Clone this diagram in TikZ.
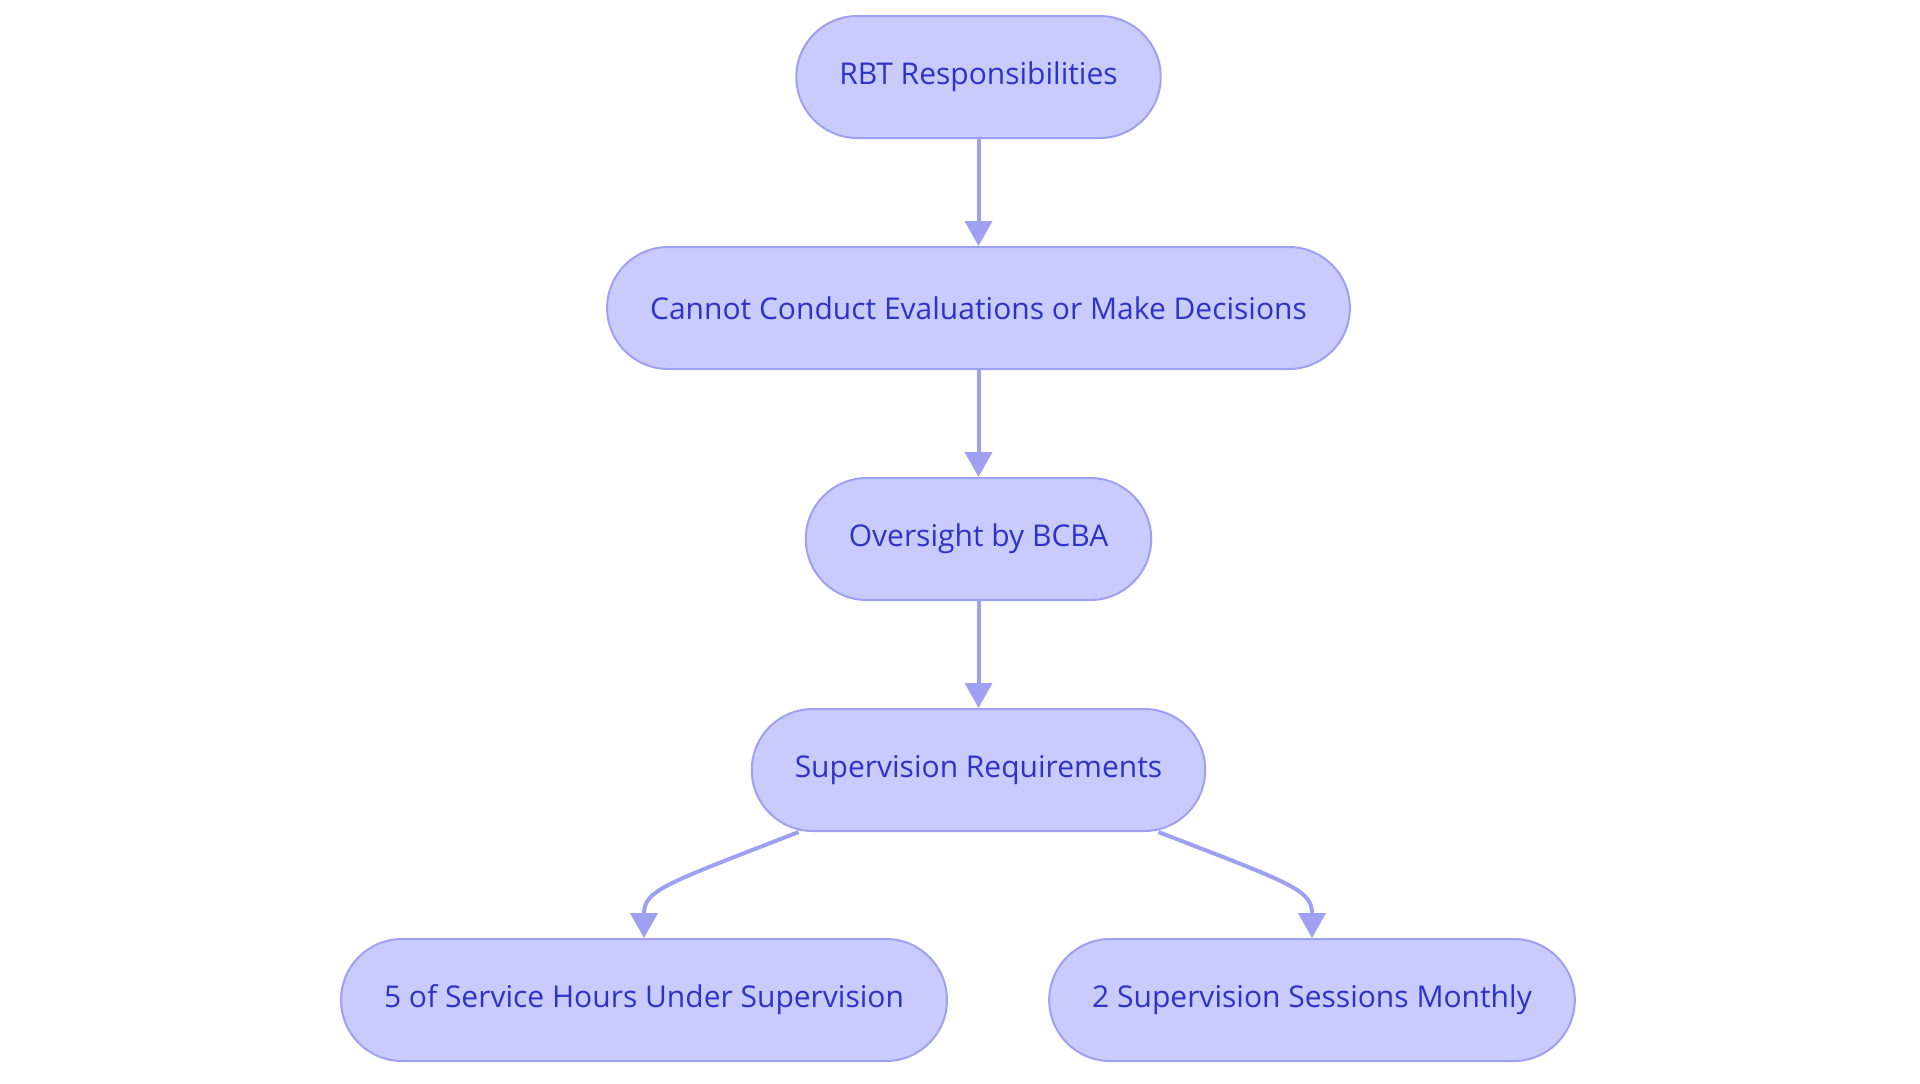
\documentclass[tikz,border=0pt]{standalone}
\usepackage{fontspec}
\setmainfont{Open Sans}
\usetikzlibrary{arrows.meta,calc}
\definecolor{boxfill}{HTML}{C9CBFD}
\definecolor{boxline}{HTML}{9EA1F1}
\definecolor{boxtext}{HTML}{2E32C8}
\begin{document}
\begin{tikzpicture}[x=0.5pt,y=-0.5pt,
        stadium/.style={draw=boxline, fill=boxfill, line width=1pt, rounded corners=30.5pt,
            minimum height=61pt, inner xsep=21.5pt, text=boxtext, font=\fontsize{15}{18}\selectfont},
        link/.style={draw=boxline, line width=2pt, -{Triangle[length=12.5pt,width=13.5pt]}}]
        \useasboundingbox (0,0) rectangle (1920,1083);

        \node[stadium] (rbt) at (978.5,77) {RBT Responsibilities};
        \node[stadium] (eval) at (978.5,308) {Cannot Conduct Evaluations or Make Decisions};
        \node[stadium] (bcba) at (978.5,539) {Oversight by BCBA};
        \node[stadium] (req) at (978.5,770) {Supervision Requirements};
        \node[stadium] (hours) at (644,1000) {5 of Service Hours Under Supervision};
        \node[stadium] (sess) at (1312,1000) {2 Supervision Sessions Monthly};

        \draw[link] (rbt) -- (eval);
        \draw[link] (eval) -- (bcba);
        \draw[link] (bcba) -- (req);
        % curved links to the two requirements
        \draw[link] ($(req.south)!0.79!(req.south west)$) .. controls (665,884) and (644,890) .. (hours.north);
        \draw[link] ($(req.south)!0.79!(req.south east)$) .. controls (1293,884) and (1312,890) .. (sess.north);
    \end{tikzpicture}
\end{document}
